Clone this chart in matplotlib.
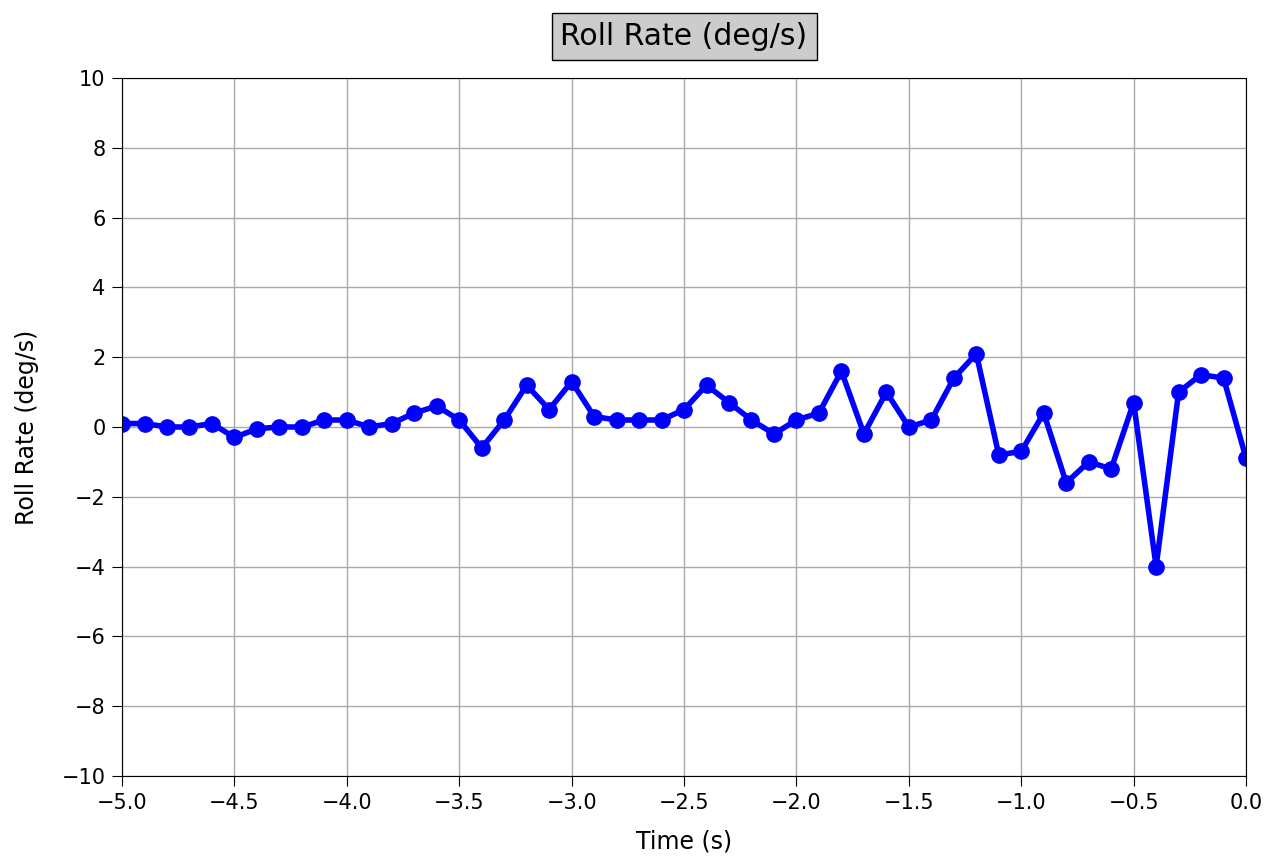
import matplotlib
matplotlib.use('Agg')
import matplotlib.pyplot as plt
import numpy as np

# Roll rate samples over the last 5 seconds, 0.1 s apart
time_s = np.round(np.arange(-5.0, 0.01, 0.1), 1)
roll_rate = [0.1, 0.1, 0.0, 0.0, 0.1, -0.3, -0.05, 0.0, 0.0, 0.2,
             0.2, 0.0, 0.1, 0.4, 0.6, 0.2, -0.6, 0.2, 1.2, 0.5,
             1.3, 0.3, 0.2, 0.2, 0.2, 0.5, 1.2, 0.7, 0.2, -0.2,
             0.2, 0.4, 1.6, -0.2, 1.0, 0.0, 0.2, 1.4, 2.1, -0.8,
             -0.7, 0.4, -1.6, -1.0, -1.2, 0.7, -4.0, 1.0, 1.5, 1.4,
             -0.9]

fig = plt.figure(figsize=(12.78, 8.6), dpi=100)
ax = fig.add_axes([0.0955, 0.0977, 0.8795, 0.8116])

ax.plot(time_s, roll_rate, 'b-o', linewidth=4, markersize=11)

ax.set_xlim(-5.0, 0.0)
ax.set_ylim(-10, 10)
ax.set_xticks(np.arange(-5.0, 0.01, 0.5))
ax.set_yticks(np.arange(-10, 11, 2))
ax.tick_params(labelsize=15, length=7, pad=5)
ax.set_xlabel('Time (s)', fontsize=17, labelpad=12)
ax.set_ylabel('Roll Rate (deg/s)', fontsize=17, labelpad=16)
ax.grid(True, color='#aaaaaa', linewidth=1)

ax.set_title('Roll Rate (deg/s)', fontsize=21.5, pad=24,
             bbox=dict(facecolor='#cccccc', edgecolor='black', boxstyle='square,pad=0.3'))

plt.savefig('out.png', dpi=100)
